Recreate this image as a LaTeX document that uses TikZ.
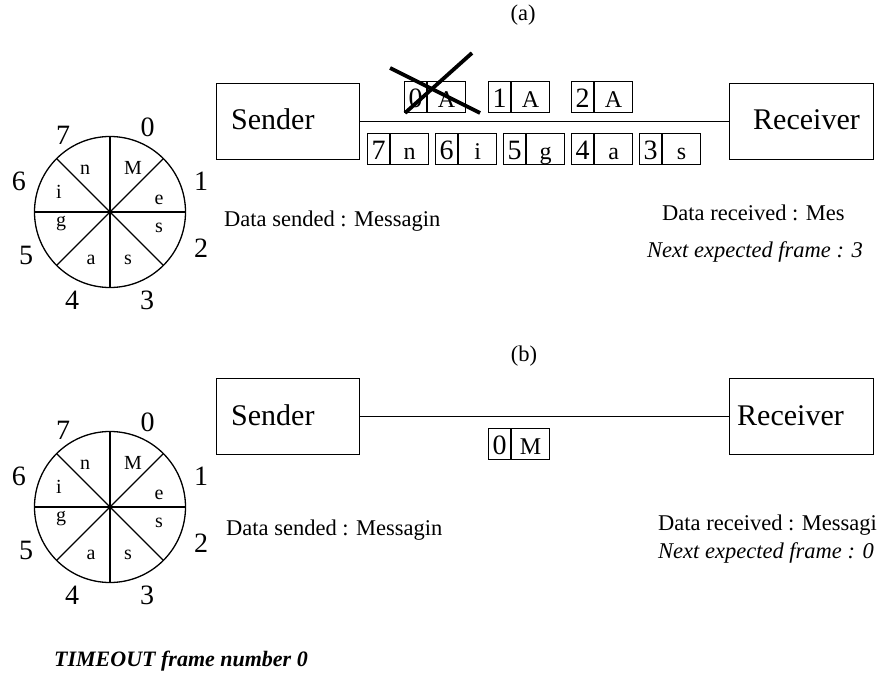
\documentclass[tikz,border=0pt]{standalone}
\usepackage{fontspec}
\setmainfont{Liberation Serif}
\newcommand{\fsz}[1]{\fontsize{#1}{#1}\selectfont}
\tikzset{
  thinline/.style={line width=1.3pt},
  bigbox/.style={draw, line width=1.3pt, minimum height=76pt, inner sep=0pt, anchor=north west},
  bigtext/.style={anchor=base west, inner sep=0pt, font=\fsz{30}},
  cellnum/.style={draw, line width=1.1pt, inner sep=0pt, minimum width=22pt, minimum height=31pt,
    text height=21pt, text depth=0pt, anchor=north west, font=\fsz{28}},
  cellchar/.style={cellnum, minimum width=38pt, font=\fsz{24}},
  wnum/.style={inner sep=0pt, font=\fsz{28}},
  wchar/.style={inner sep=0pt, font=\fsz{20}},
  info/.style={anchor=base west, inner sep=0pt, font=\fsz{22.5}},
  crossline/.style={line width=3.8pt}
}
\newcommand{\frm}[5]{%
  \node[cellnum] (#1n) at (#2,#3) {#4};
  \node[cellchar] (#1c) at (#1n.north east) {#5};
}
\newcommand{\wheel}[2]{%
  \coordinate (#1) at (110,#2);
  \draw[thinline] (#1) circle[radius=75.5pt];
  \foreach \a in {0,45,...,315} \draw[thinline] (#1) -- ++(\a:75.5pt);
  \fill (#1) circle[radius=1.6pt];
  \node[wnum] (#1-0) at ([shift={(37.5,-85)}]#1) {0};
  \node[wnum] (#1-1) at ([shift={(91,-31)}]#1) {1};
  \node[wnum] (#1-2) at ([shift={(91,36)}]#1) {2};
  \node[wnum] (#1-3) at ([shift={(37,88)}]#1) {3};
  \node[wnum] (#1-4) at ([shift={(-38,88)}]#1) {4};
  \node[wnum] (#1-5) at ([shift={(-84,43)}]#1) {5};
  \node[wnum] (#1-6) at ([shift={(-91,-31)}]#1) {6};
  \node[wnum] (#1-7) at ([shift={(-47,-77)}]#1) {7};
  \node[wchar] (#1-M) at ([shift={(23,-44)}]#1) {M};
  \node[wchar] (#1-e) at ([shift={(49,-12)}]#1) {e};
  \node[wchar] (#1-s1) at ([shift={(49,16)}]#1) {s};
  \node[wchar] (#1-s2) at ([shift={(18,48)}]#1) {s};
  \node[wchar] (#1-a) at ([shift={(-19,48)}]#1) {a};
  \node[wchar] (#1-g) at ([shift={(-49,12)}]#1) {g};
  \node[wchar] (#1-i) at ([shift={(-51,-20)}]#1) {i};
  \node[wchar] (#1-n) at ([shift={(-25,-42)}]#1) {n};
}
\begin{document}
\begin{tikzpicture}[x=1pt,y=-1pt]
\fill[white] (0,0) rectangle (883,679);
\useasboundingbox (0,0) rectangle (883,679);

% ---------- (a) ----------
\node[anchor=base, inner sep=0pt, font=\fsz{22.5}] (lbla) at (523,21) {(a)};
\wheel{wa}{212}
\node[bigbox, minimum width=143pt] (sa) at (216,83) {};
\node[bigtext] (sat) at (231,130) {Sender};
\node[bigbox, minimum width=144pt] (ra) at (729,83) {};
\node[bigtext] (rat) at (753,130) {Receiver};
\draw[thinline] (sa.east) -- (ra.west);

\frm{fa0}{404}{81}{0}{A}
\frm{fa1}{488}{81}{1}{A}
\frm{fa2}{571}{81}{2}{A}
\frm{fa7}{367}{133}{7}{n}
\frm{fa6}{435}{133}{6}{i}
\frm{fa5}{503}{133}{5}{g}
\frm{fa4}{571}{133}{4}{a}
\frm{fa3}{639}{133}{3}{s}

\coordinate (xa1) at (390,68);
\coordinate (xa2) at (480,113);
\coordinate (xb1) at (405,113);
\coordinate (xb2) at (472,53);
\draw[crossline] (xa1) -- (xa2);
\draw[crossline] (xb1) -- (xb2);

\node[info] (dsa) at (224,226) {Data sended : Messagin};
\node[info] (dra) at (662,221) {Data received : Mes};
\node[info, font=\fsz{22.5}\itshape] (nea) at (647,257) {Next expected frame : 3};

% ---------- (b) ----------
\node[anchor=base, inner sep=0pt, font=\fsz{22.5}] (lblb) at (524,361) {(b)};
\wheel{wb}{507}
\node[bigbox, minimum width=143pt] (sb) at (216,378) {};
\node[bigtext] (sbt) at (231,425) {Sender};
\node[bigbox, minimum width=144pt] (rb) at (729,378) {};
\node[bigtext] (rbt) at (737,425) {Receiver};
\draw[thinline] (sb.east) -- (rb.west);

\frm{fb0}{488}{428}{0}{M}

\node[info] (dsb) at (226,535) {Data sended : Messagin};
\node[info] (drb) at (658,530) {Data received : Messagi};
\node[info, font=\fsz{22.5}\itshape] (neb) at (658,558) {Next expected frame : 0};

\node[anchor=base east, inner sep=0pt, font=\fsz{22}\bfseries\itshape] (tmo) at (308,666) {TIMEOUT frame number 0};
\end{tikzpicture}
\end{document}
